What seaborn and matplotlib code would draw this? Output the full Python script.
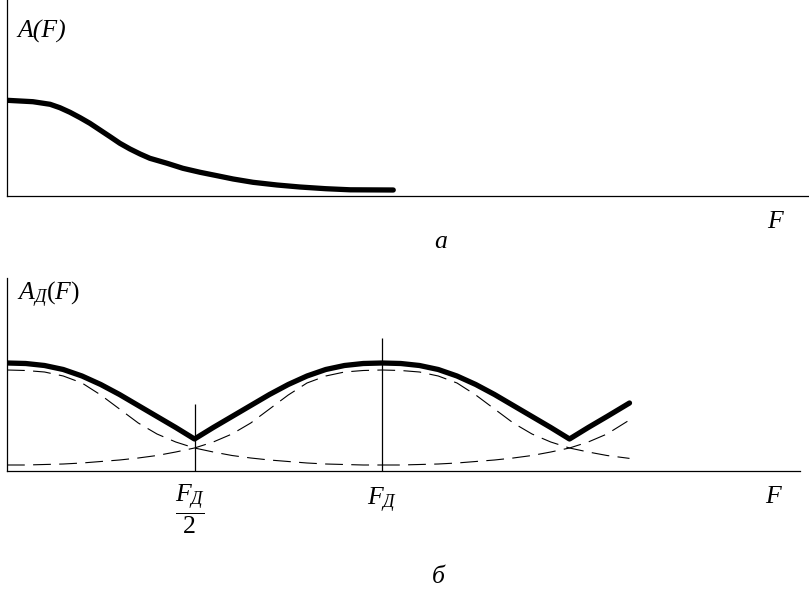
import matplotlib
matplotlib.use("Agg")
import matplotlib.pyplot as plt
import seaborn as sns
import numpy as np

# Частоты в долях F_Д (F_Д = 1), амплитуды в условных единицах
# (а) спектр исходного сигнала
spec_f = [0.00, 0.069, 0.115, 0.141, 0.168, 0.195, 0.221, 0.248, 0.275, 0.301,
          0.328, 0.355, 0.381, 0.427, 0.469, 0.515, 0.56, 0.603, 0.656, 0.72,
          0.781, 0.85, 0.915, 1.03]
spec_a = [0.957, 0.943, 0.917, 0.883, 0.837, 0.783, 0.727, 0.66, 0.593, 0.527,
          0.47, 0.42, 0.377, 0.327, 0.277, 0.237, 0.203, 0.17, 0.137, 0.11,
          0.09, 0.073, 0.062, 0.06]

# (б) спектр дискретизированного сигнала (жирная линия)
sum_f = [0.00, 0.05, 0.10, 0.15, 0.20, 0.25, 0.30, 0.35, 0.40, 0.45, 0.50,
         0.55, 0.60, 0.65, 0.70, 0.75, 0.80, 0.85, 0.90, 0.95, 1.00,
         1.05, 1.10, 1.15, 1.20, 1.25, 1.30, 1.35, 1.40, 1.45, 1.50,
         1.55, 1.60, 1.66]
sum_a = [1.08, 1.075, 1.055, 1.015, 0.95, 0.865, 0.765, 0.655, 0.545, 0.435, 0.32,
         0.435, 0.545, 0.655, 0.765, 0.865, 0.95, 1.015, 1.055, 1.075, 1.08,
         1.075, 1.055, 1.015, 0.95, 0.865, 0.765, 0.655, 0.545, 0.435, 0.32,
         0.435, 0.545, 0.68]

# копии спектра (штриховые линии)
copy0_f = [0.00, 0.05, 0.10, 0.15, 0.20, 0.25, 0.30, 0.35, 0.40, 0.45, 0.50,
           0.55, 0.60, 0.65, 0.70, 0.75, 0.80, 0.85, 0.90, 0.95, 1.00]
copy0_a = [1.01, 1.005, 0.99, 0.95, 0.88, 0.76, 0.62, 0.48, 0.37, 0.29, 0.23,
           0.19, 0.155, 0.13, 0.11, 0.095, 0.08, 0.07, 0.065, 0.06, 0.06]

copy1_f = [0.00, 0.05, 0.10, 0.15, 0.20, 0.25, 0.30, 0.35, 0.40, 0.45, 0.50,
           0.55, 0.60, 0.65, 0.70, 0.75, 0.80, 0.85, 0.90, 0.95, 1.00,
           1.05, 1.10, 1.15, 1.20, 1.25, 1.30, 1.35, 1.40, 1.45, 1.50,
           1.55, 1.60, 1.66]
copy1_a = [0.06, 0.06, 0.065, 0.07, 0.08, 0.095, 0.11, 0.13, 0.155, 0.19, 0.23,
           0.29, 0.37, 0.48, 0.62, 0.76, 0.88, 0.95, 0.99, 1.005, 1.01,
           1.005, 0.99, 0.95, 0.88, 0.76, 0.62, 0.48, 0.37, 0.29, 0.23,
           0.19, 0.155, 0.126]

copy2_f = [1.00, 1.05, 1.10, 1.15, 1.20, 1.25, 1.30, 1.35, 1.40, 1.45, 1.50,
           1.55, 1.60, 1.66]
copy2_a = [0.06, 0.06, 0.065, 0.07, 0.08, 0.095, 0.11, 0.13, 0.155, 0.19, 0.23,
           0.29, 0.37, 0.51]

# вертикальные отметки F_Д/2 и F_Д
mark_f = [0.5, 1.0]
mark_h = [0.67, 1.33]

sns.set_style("white")
plt.rcParams["mathtext.fontset"] = "custom"
plt.rcParams["mathtext.it"] = "Liberation Serif:italic"
plt.rcParams["mathtext.rm"] = "Liberation Serif"
plt.rcParams["text.color"] = "black"

W, H = 809, 589
fig = plt.figure(figsize=(W / 100, H / 100), dpi=100)


def box(x0, y0, x1, y1):
    return [x0 / W, 1 - y1 / H, (x1 - x0) / W, (y1 - y0) / H]


def put(x, y, s, size=18.5, **kw):
    fig.text(x / W, 1 - y / H, s, fontsize=size, family="Liberation Serif",
             style="italic", color="black", **kw)


ax1 = fig.add_axes(box(7, 0, 809, 196))
ax2 = fig.add_axes(box(7, 278, 800, 471))

for ax in (ax1, ax2):
    for side in ("top", "right"):
        ax.spines[side].set_visible(False)
    for side in ("left", "bottom"):
        ax.spines[side].set_color("black")
        ax.spines[side].set_linewidth(0.9)
    ax.set_xticks([])
    ax.set_yticks([])

thick = dict(color="black", linewidth=3.8, sort=False, estimator=None)
dash = dict(color="black", linewidth=0.8, sort=False, estimator=None,
            linestyle=(0, (16, 7.5)))

sns.lineplot(x=spec_f, y=spec_a, ax=ax1, **thick)
ax1.set_xlim(0, 802 / 375)
ax1.set_ylim(0, 1.96)

sns.lineplot(x=copy0_f, y=copy0_a, ax=ax2, **dash)
sns.lineplot(x=copy1_f, y=copy1_a, ax=ax2, **dash)
sns.lineplot(x=copy2_f, y=copy2_a, ax=ax2, **dash)
sns.lineplot(x=sum_f, y=sum_a, ax=ax2, **thick)
ax2.vlines(mark_f, 0, mark_h, color="black", linewidth=0.9)
ax2.set_xlim(0, 793 / 375)
ax2.set_ylim(0, 1.93)

for ax in (ax1, ax2):
    ax.set_xlabel("")
    ax.set_ylabel("")

# подписи
put(17, 38, "A(F)", va="baseline")
put(767, 228, "F", va="baseline")
put(441, 248, "а", va="baseline", ha="center")

put(17, 300, r"$A_{Д}(F)$", va="baseline")
put(765, 503, "F", va="baseline")
put(190, 509, r"$\dfrac{F_{Д}}{2}$", va="center", ha="center")
put(382, 505, r"$F_{Д}$", va="baseline", ha="center")
put(438, 583, "б", va="baseline", ha="center")

fig.savefig("out.png", dpi=100)
